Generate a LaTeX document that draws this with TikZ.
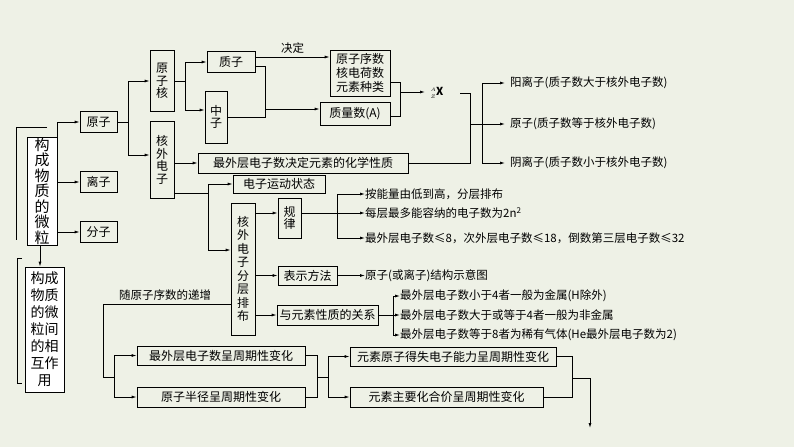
\documentclass[tikz,border=0pt]{standalone}
\usepackage{fontspec}
\setmainfont{Noto Sans CJK SC}
\usetikzlibrary{arrows.meta, positioning, calc}
\definecolor{bgpaper}{HTML}{EEF1E6}

\begin{document}
\begin{tikzpicture}[
    x=1pt, y=-1pt,
    >={Latex[width=3pt,length=5pt]},
    box/.style={rectangle, draw, thick, inner sep=0pt, align=center, font=\fontsize{12}{13}\selectfont},
    vbox/.style={box, font=\fontsize{12}{12.5}\selectfont},
    txt/.style={anchor=west, inner sep=0pt, font=\fontsize{11.5}{13}\selectfont},
    line/.style={draw, thick, ->},
    conn/.style={draw, thick}
]
    \fill[bgpaper] (0,0) rectangle (794,447);
    \useasboundingbox (0,0) rectangle (794,447);

    % left column
    \draw[thick] (47,127) -- (16,127) -- (16,240);
    \node (micro) [vbox, fill=white, minimum width=30, minimum height=108, font=\fontsize{15}{15.5}\selectfont] at (42,191) {构\\成\\物\\质\\的\\微\\粒};
    \draw[thick] (22,258) -- (17,258) -- (17,383) -- (22,383);
    \node (inter) [vbox, fill=white, minimum width=39, minimum height=125, font=\fontsize{14}{17}\selectfont] at (44.5,329.5) {构成\\物质\\的微\\粒间\\的相\\互作\\用};
    \draw[line] (40,245) -- (inter.north -| 40,0);

    \node (atom) [box, minimum width=37, minimum height=21] at (98.5,122) {原子};
    \node (ion) [box, minimum width=37, minimum height=21] at (98.5,182) {离子};
    \node (molec) [box, minimum width=37, minimum height=21] at (98.5,232) {分子};
    \draw[line] (57,137) -- (57,122) -- (atom);
    \draw[line] (57,182) -- (ion);
    \draw[line] (57,232) -- (molec);

    % atom structure
    \node (nucl) [vbox, minimum width=24, minimum height=61] at (162,81) {原\\子\\核};
    \node (outer) [vbox, minimum width=24, minimum height=77] at (162,160) {核\\外\\电\\子};
    \draw[conn] (atom.east) -- (128,122);
    \draw[line] (128,81) -- (128,155) -- (outer.west |- 0,155);
    \draw[line] (128,81) -- (nucl.west);

    \node (proton) [box, minimum width=48, minimum height=21] at (231,62) {质子};
    \node (neutron) [vbox, minimum width=22, minimum height=52] at (216,117) {中\\子};
    \draw[conn] (nucl.east) -- (185,81);
    \draw[line] (185,62) -- (proton);
    \draw[line] (185,62) -- (185,110) -- (neutron.west |- 0,110);

    \node (order) [box, minimum width=60, minimum height=46, font=\fontsize{12}{14}\selectfont] at (360,73) {原子序数\\核电荷数\\元素种类};
    \node (mass) [box, minimum width=70, minimum height=23] at (355,114) {质量数(\textit{A})};
    \draw[line] (proton.east |- 0,57) -- node[above, font=\fontsize{11.5}{13}\selectfont] {决定} (order.west |- 0,57);
    \draw[conn] (proton.east |- 0,66) -- (265,66) -- (265,117) -- (neutron.east |- 0,117);
    \draw[line] (265,109) -- (mass.west |- 0,109);

    \node (nuclide) [inner sep=0pt, font=\fontsize{11}{12}\selectfont] at (437,93) {${}^{\scriptscriptstyle A}_{\scriptscriptstyle Z}$\textbf{X}};
    \draw[conn] (order.east |- 0,82) -- (400,82) -- (400,116) -- (mass.east |- 0,116);
    \draw[line] (400,92) -- (425,92);

    \node (valence) [box, minimum width=210, minimum height=20] at (303,163) {最外层电子数决定元素的化学性质};
    \draw[line] (outer.east |- valence) -- (valence);

    \node (cation) [txt] at (510,83) {阳离子(质子数大于核外电子数)};
    \node (neutral) [txt] at (510,124) {原子(质子数等于核外电子数)};
    \node (anion) [txt] at (510,163) {阴离子(质子数小于核外电子数)};
    \draw[conn] (460,93) -- (470,93) -- (470,163) -- (valence.east);
    \draw[conn] (470,124) -- (482,124);
    \draw[line] (482,83) -- (505,83);
    \draw[line] (482,124) -- (505,124);
    \draw[line] (482,83) -- (482,163) -- (505,163);

    % electron arrangement
    \node (motion) [box, minimum width=92, minimum height=18] at (279,184) {电子运动状态};
    \node (layer) [vbox, minimum width=24, minimum height=132, font=\fontsize{12}{13.5}\selectfont] at (243,269) {核\\外\\电\\子\\分\\层\\排\\布};
    \draw[conn] (outer.east |- 0,193) -- (208,193);
    \draw[line] (208,184) -- (motion);
    \draw[line] (208,184) -- (208,250) -- (layer.west |- 0,250);

    \node (rule) [vbox, minimum width=23, minimum height=40] at (289.5,218) {规\\律};
    \node (repr) [box, minimum width=59, minimum height=19] at (307.5,275.5) {表示方法};
    \node (relat) [box, minimum width=101, minimum height=20] at (327.5,315) {与元素性质的关系};
    \draw[line] (layer.east |- 0,213) -- (rule.west |- 0,213);
    \draw[line] (layer.east |- repr) -- (repr);
    \draw[line] (layer.east |- relat) -- (relat);

    \node (r1) [txt] at (365,194) {按能量由低到高，分层排布};
    \node (r2) [txt] at (365,213) {每层最多能容纳的电子数为2\textit{n}\textsuperscript{2}};
    \node (r3) [txt] at (365,238) {最外层电子数≤8，次外层电子数≤18，倒数第三层电子数≤32};
    \draw[conn] (rule.east |- 0,213) -- (337,213);
    \draw[line] (337,194) -- (r1.west);
    \draw[line] (337,213) -- (r2.west);
    \draw[line] (337,194) -- (337,238) -- (r3.west);

    \node (scheme) [txt] at (365,275.5) {原子(或离子)结构示意图};
    \draw[line] (repr) -- (scheme);

    \node (m1) [txt] at (400,296) {最外层电子数小于4者一般为金属(H除外)};
    \node (m2) [txt] at (400,315) {最外层电子数大于或等于4者一般为非金属};
    \node (m3) [txt] at (400,335) {最外层电子数等于8者为稀有气体(He最外层电子数为2)};
    \draw[conn] (relat) -- (393,315);
    \draw[line] (393,296) -- (m1.west);
    \draw[line] (393,315) -- (m2.west);
    \draw[line] (393,296) -- (393,335) -- (m3.west);

    % periodicity
    \node (incr) [font=\fontsize{11.5}{13}\selectfont] at (165,295) {随原子序数的递增};
    \node (p1) [box, minimum width=168, minimum height=19] at (221,355.5) {最外层电子数呈周期性变化};
    \node (p2) [box, minimum width=168, minimum height=20] at (221,397) {原子半径呈周期性变化};
    \draw[conn] (layer.west |- 0,304) -- (103,304) -- (103,377) -- (114,377);
    \draw[line] (114,355.5) -- (p1.west);
    \draw[line] (114,355.5) -- (114,397) -- (p2.west);

    \node (q1) [box, minimum width=206, minimum height=19] at (453,356.5) {元素原子得失电子能力呈周期性变化};
    \node (q2) [box, minimum width=193, minimum height=20] at (446.5,397) {元素主要化合价呈周期性变化};
    \draw[conn] (p1.east) -- (317,355.5) -- (317,397) -- (p2.east);
    \draw[conn] (317,377) -- (328,377);
    \draw[line] (328,356.5) -- (q1.west);
    \draw[line] (328,356.5) -- (328,397) -- (q2.west);

    \coordinate (down) at (590,428);
    \draw[conn] (q1.east) -- (572,356.5) -- (572,397) -- (q2.east);
    \draw[line] (572,378) -- (590,378) -- (down);
\end{tikzpicture}
\end{document}
